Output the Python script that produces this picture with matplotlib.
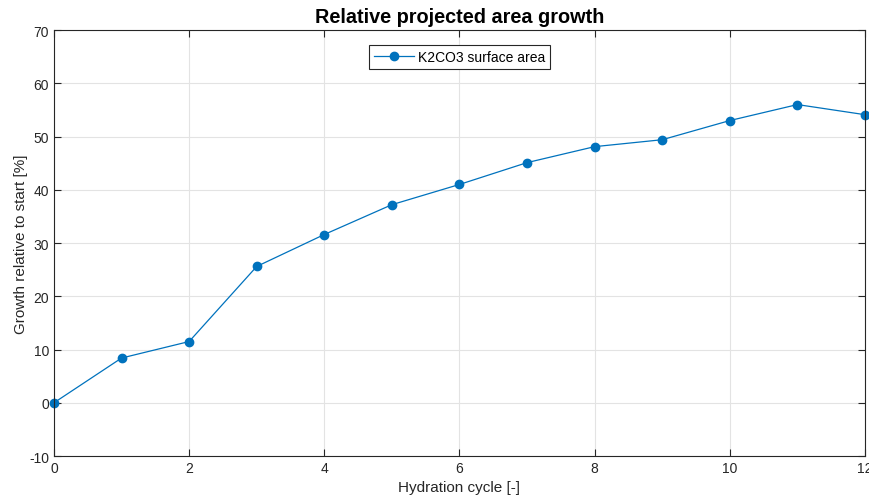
import matplotlib.pyplot as plt

plt.rcParams['font.family'] = ['Liberation Sans', 'DejaVu Sans']
plt.rcParams['axes.unicode_minus'] = False

# Data
cycles = [0, 1, 2, 3, 4, 5, 6, 7, 8, 9, 10, 11, 12]
growth = [0.0, 8.4, 11.5, 25.6, 31.6, 37.2, 41.0, 45.1, 48.1, 49.4, 53.0, 56.0, 54.1]

fig = plt.figure(figsize=(8.69, 5.02), dpi=100)
ax = fig.add_axes([0.0621, 0.0896, 0.9333, 0.8486])

ax.plot(cycles, growth, '-o', color='#0072BD', lw=0.9, ms=6,
        label='K2CO3 surface area', clip_on=False)

ax.set_xlim(0, 12)
ax.set_ylim(-10, 70)
ax.set_xticks(range(0, 13, 2))
ax.set_yticks(range(-10, 71, 10))

ax.grid(True, color='#e3e3e3', lw=0.8)
ax.set_axisbelow(True)
for s in ax.spines.values():
    s.set_color('#262626')
    s.set_linewidth(0.8)
ax.tick_params(direction='in', top=True, right=True, length=5,
               labelsize=10, colors='#262626', labelcolor='#262626')

ax.set_xlabel('Hydration cycle [-]', fontsize=11, color='#262626')
ax.set_ylabel('Growth relative to start [%]', fontsize=11, color='#262626', labelpad=1)
ax.set_title('Relative projected area growth', fontsize=14.3, fontweight='bold', pad=6)

leg = ax.legend(loc='upper center', fontsize=10, fancybox=False,
                edgecolor='#262626', framealpha=1, borderpad=0.35,
                handlelength=2.9, handletextpad=0.3, borderaxespad=0.3,
                bbox_to_anchor=(0.5, 0.975))
leg.get_frame().set_linewidth(0.8)

plt.savefig('out.png', dpi=100)
